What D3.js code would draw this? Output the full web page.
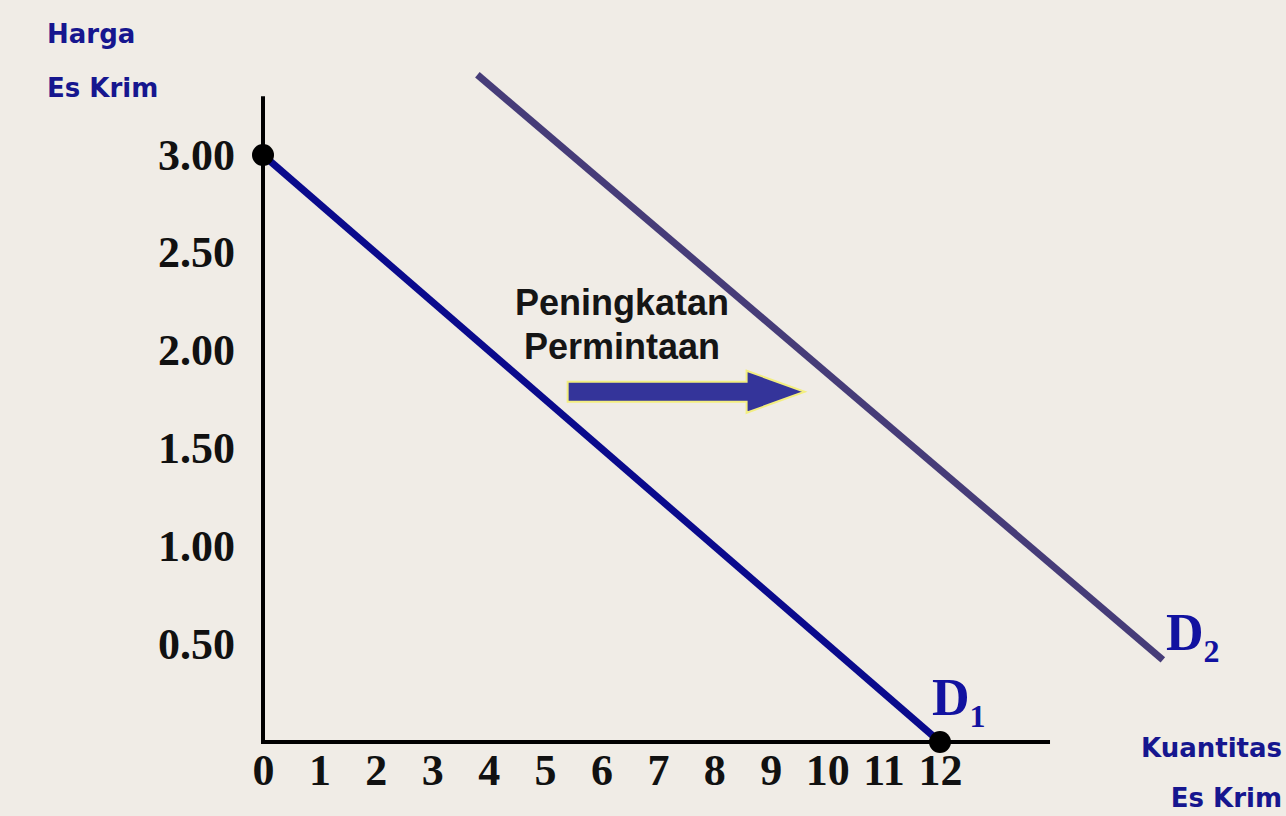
<!DOCTYPE html>
<html>
<head>
<meta charset="utf-8">
<script src="https://cdn.jsdelivr.net/npm/d3@7"></script>
<style>
  body { margin: 0; background: #f0ece6; }
  svg { display: block; }
</style>
</head>
<body>
<script>
// demand curves, quantity (x) vs price (y)
const d1Qty = [0, 12]
const d1Price = [3, 0]
const d2Qty = [3.8, 15.95]
const d2Price = [3.41, 0.42]

const priceTicks = [0.5, 1, 1.5, 2, 2.5, 3]
const qtyTicks = [0, 1, 2, 3, 4, 5, 6, 7, 8, 9, 10, 11, 12]

// shift arrow, in data units
const arrowQty = [5.4, 9.6]
const arrowPrice = 1.79

var w = 1286
var h = 816

const xScale = d3.scaleLinear().domain([0, 12]).range([263, 940])
const yScale = d3.scaleLinear().domain([0, 3]).range([742, 155])

const svg = d3.select("body")
  .append("svg")
  .attr("width", w)
  .attr("height", h)

svg.append("rect")
  .attr("width", w)
  .attr("height", h)
  .attr("fill", "#f0ece6")

// axes lines
svg.append("line")
  .attr("x1", xScale(0)).attr("x2", xScale(0))
  .attr("y1", yScale(3.3)).attr("y2", yScale(0) + 2)
  .attr("stroke", "#000").attr("stroke-width", 4)

svg.append("line")
  .attr("x1", xScale(0) - 2).attr("x2", xScale(13.95))
  .attr("y1", yScale(0)).attr("y2", yScale(0))
  .attr("stroke", "#000").attr("stroke-width", 4)

const yAxis = d3.axisLeft(yScale)
  .tickValues(priceTicks)
  .tickSize(0)
  .tickPadding(28)
  .tickFormat(d3.format(".2f"))

const gy = svg.append("g")
  .attr("transform", "translate(" + xScale(0) + ",0)")
  .call(yAxis)
gy.select(".domain").remove()
gy.selectAll("text")
  .attr("fill", "#111")
  .style("font-family", "'Liberation Serif', serif")
  .style("font-weight", "bold")
  .style("font-size", "44px")

const xAxis = d3.axisBottom(xScale)
  .tickValues(qtyTicks)
  .tickSize(0)
  .tickPadding(12)

const gx = svg.append("g")
  .attr("transform", "translate(0," + yScale(0) + ")")
  .call(xAxis)
gx.select(".domain").remove()
gx.selectAll("text")
  .attr("fill", "#111")
  .style("font-family", "'Liberation Serif', serif")
  .style("font-weight", "bold")
  .style("font-size", "44px")

const line = d3.line()
  .x(d => xScale(d[0]))
  .y(d => yScale(d[1]))

svg.append("path")
  .datum(d2Qty.map((q, i) => [q, d2Price[i]]))
  .attr("d", line)
  .attr("stroke", "#463c78")
  .attr("stroke-width", 7)
  .attr("fill", "none")

svg.append("path")
  .datum(d1Qty.map((q, i) => [q, d1Price[i]]))
  .attr("d", line)
  .attr("stroke", "#0a0a8c")
  .attr("stroke-width", 7)
  .attr("fill", "none")

svg.selectAll("circle")
  .data(d1Qty.map((q, i) => [q, d1Price[i]]))
  .enter()
  .append("circle")
  .attr("cx", d => xScale(d[0]))
  .attr("cy", d => yScale(d[1]))
  .attr("r", 11)
  .attr("fill", "#000")

// arrow
const ax0 = xScale(arrowQty[0])
const ax1 = xScale(arrowQty[1])
const ay = yScale(arrowPrice)
const arrowPts = [
  [ax0, ay - 10], [ax1 - 58, ay - 10], [ax1 - 58, ay - 21], [ax1, ay],
  [ax1 - 58, ay + 21], [ax1 - 58, ay + 10], [ax0, ay + 10]
]
svg.append("polygon")
  .attr("points", arrowPts.map(p => p.join(",")).join(" "))
  .attr("fill", "#34349a")
  .attr("stroke", "#f3ee80")
  .attr("stroke-width", 2)

svg.append("text")
  .attr("x", 622).attr("y", 315)
  .attr("text-anchor", "middle")
  .style("font-family", "'Liberation Sans', Arial, sans-serif")
  .style("font-weight", "bold")
  .style("font-size", "36px")
  .attr("fill", "#151515")
  .text("Peningkatan")

svg.append("text")
  .attr("x", 622).attr("y", 359)
  .attr("text-anchor", "middle")
  .style("font-family", "'Liberation Sans', Arial, sans-serif")
  .style("font-weight", "bold")
  .style("font-size", "36px")
  .attr("fill", "#151515")
  .text("Permintaan")

// curve labels
function curveLabel(x, y, sub) {
  const t = svg.append("text")
    .attr("x", x).attr("y", y)
    .attr("fill", "#1212a0")
    .style("font-family", "'Liberation Serif', serif")
    .style("font-weight", "bold")
  t.append("tspan").style("font-size", "52px").text("D")
  t.append("tspan").attr("dy", 12).style("font-size", "32px").text(sub)
}
curveLabel(932, 715, "1")
curveLabel(1166, 650, "2")

// axis titles
const titleStyle = sel => sel
  .attr("fill", "#16168f")
  .style("font-family", "'DejaVu Sans', Verdana, sans-serif")
  .style("font-weight", "bold")
  .style("font-size", "26px")

svg.append("text").attr("x", 47).attr("y", 43).call(titleStyle).text("Harga")
svg.append("text").attr("x", 47).attr("y", 97).call(titleStyle).text("Es Krim")
svg.append("text").attr("x", 1282).attr("y", 757).attr("text-anchor", "end").call(titleStyle).text("Kuantitas")
svg.append("text").attr("x", 1282).attr("y", 807).attr("text-anchor", "end").call(titleStyle).text("Es Krim")
</script>
</body>
</html>
